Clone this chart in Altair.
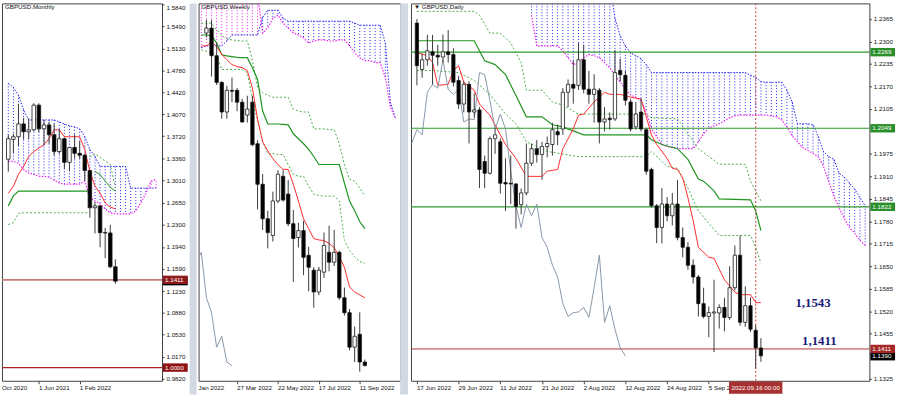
import altair as alt
import pandas as pd

FONT = "Liberation Sans"
PLOT_H = 382
BLUE = "#2323f2"
MAGENTA = "#f022f0"
RED = "#ff2b2b"
GREEN = "#1f951f"
DGREEN = "#4aae4a"
GRAY = "#8796a8"

# ======================= MONTHLY (index 0 = Dec 2020 ... 21 = Sep 2022) =======================
M_OPEN = [1.3350, 1.3670, 1.3712, 1.3918, 1.3791, 1.3823, 1.4220, 1.3839, 1.3902, 1.3744, 1.3473,
          1.3680, 1.3300, 1.3540, 1.3445, 1.3415, 1.3170, 1.2570, 1.2600, 1.2170, 1.2165, 1.1620]
M_HIGH = [1.3745, 1.3760, 1.4240, 1.4015, 1.4010, 1.4250, 1.4250, 1.3985, 1.3955, 1.3915, 1.3835,
          1.3700, 1.3545, 1.3750, 1.3645, 1.3440, 1.3180, 1.2665, 1.2615, 1.2245, 1.2295, 1.1740]
M_LOW = [1.3150, 1.3450, 1.3565, 1.3670, 1.3670, 1.3800, 1.3785, 1.3570, 1.3600, 1.3410, 1.3435,
         1.3195, 1.3160, 1.3360, 1.3355, 1.3000, 1.2410, 1.2155, 1.1935, 1.1760, 1.1600, 1.1350]
M_CLOSE = [1.3680, 1.3712, 1.3918, 1.3791, 1.3823, 1.4220, 1.3839, 1.3902, 1.3744, 1.3473, 1.3680,
           1.3300, 1.3540, 1.3445, 1.3415, 1.3170, 1.2570, 1.2600, 1.2170, 1.2165, 1.1620, 1.1390]
M_TENKAN = [1.2800, 1.2917, 1.3108, 1.3235, 1.3394, 1.3473, 1.3530, 1.3585, 1.3680, 1.3823, 1.3823,
            1.3712, 1.3712, 1.3712, 1.3712, 1.3505, 1.3156, 1.2917, 1.2806, 1.2647, 1.2580, 1.2552]
M_KIJUN_1 = [1.2600, 1.2760, 1.2838, 1.2838, 1.2838, 1.2838, 1.2838, 1.2838, 1.2838, 1.2838, 1.2838,
             1.2838, 1.2838, 1.2838, 1.2838, 1.2838, 1.2838]            # idx 0..16
M_KIJUN_2 = [1.3156, 1.3100, 1.3000, 1.2900, 1.2838]                  # idx 17..21
M_DASH_LOW = [1.2300, 1.2330, 1.2480, 1.2489, 1.2489, 1.2489, 1.2489, 1.2489, 1.2489, 1.2489, 1.2489,
              1.2489, 1.2489, 1.2489, 1.2489, 1.2489, 1.2489]           # idx 0..16
M_DASH_UP = [1.3390, 1.3440, 1.3380, 1.3320, 1.3267, 1.2886]          # idx 16..21
M_SPAN_A = [1.4569, 1.4506, 1.4379, 1.4141, 1.3982, 1.3982, 1.3982, 1.3982, 1.3982, 1.3982, 1.3950,
            1.3918, 1.3886, 1.3871, 1.3839, 1.3712, 1.3505, 1.3394, 1.3235, 1.3235, 1.3235, 1.3235,
            1.3235, 1.3235, 1.2886, 1.2886, 1.2886, 1.2886, 1.2886, 1.2886]   # idx 0..29
M_SPAN_B = [1.3315, 1.3315, 1.3283, 1.3188, 1.3124, 1.3108, 1.3076, 1.3076, 1.3060, 1.3013, 1.2965,
            1.2949, 1.2949, 1.2949, 1.2949, 1.2997, 1.2727, 1.2679, 1.2632, 1.2552, 1.2489, 1.2473,
            1.2473, 1.2473, 1.2473, 1.2520, 1.2648, 1.2806, 1.2997, 1.3029]
M_YTICKS = [1.5840, 1.5490, 1.5130, 1.4780, 1.4420, 1.4070, 1.3720, 1.3360, 1.3010, 1.2650, 1.2300,
            1.1940, 1.1590, 1.1230, 1.0880, 1.0530, 1.0170, 0.9820]
M_XTICK_IDX = [6, 14]
M_XTICK_LBL = ["1 Jun 2021", "1 Feb 2022"]
M_EDGE_LBL = "Oct 2020"
M_LEVEL_A = [1.1411]
M_LEVEL_B = [1.0000]
M_LAST = [1.1390]

# ======================= WEEKLY (index = weeks since 2 Jan 2022) =======================
W_OPEN = [1.3559, 1.3591, 1.3411, 1.3237, 1.3044, 1.3185, 1.3185, 1.3108, 1.3024, 1.3108, 1.2837,
          1.2573, 1.2348, 1.2239, 1.2464, 1.2625, 1.2509, 1.2316, 1.2226, 1.2271, 1.2110, 1.2013,
          1.1871, 1.2000, 1.2129, 1.2065, 1.2129, 1.1833, 1.1736, 1.1511, 1.1595, 1.1414]
W_HIGH = [1.3645, 1.3645, 1.3495, 1.3245, 1.3215, 1.3269, 1.3200, 1.3130, 1.3150, 1.3150, 1.2860,
          1.2640, 1.2400, 1.2525, 1.2665, 1.2665, 1.2600, 1.2405, 1.2322, 1.2335, 1.2165, 1.2032,
          1.2035, 1.2258, 1.2303, 1.2275, 1.2140, 1.1900, 1.1760, 1.1646, 1.1738, 1.1430]
W_LOW = [1.3530, 1.3275, 1.3220, 1.3000, 1.3000, 1.3108, 1.3050, 1.2975, 1.2975, 1.2820, 1.2410,
         1.2275, 1.2155, 1.2200, 1.2450, 1.2460, 1.2300, 1.1936, 1.2161, 1.1981, 1.1875, 1.1768,
         1.1850, 1.1962, 1.2005, 1.2040, 1.1820, 1.1717, 1.1490, 1.1414, 1.1351, 1.1385]
W_CLOSE = [1.3591, 1.3411, 1.3237, 1.3044, 1.3185, 1.3180, 1.3108, 1.2979, 1.3063, 1.2831, 1.2573,
           1.2348, 1.2258, 1.2464, 1.2638, 1.2470, 1.2316, 1.2219, 1.2271, 1.2097, 1.2032, 1.1871,
           1.2013, 1.2174, 1.2065, 1.2129, 1.1833, 1.1736, 1.1511, 1.1582, 1.1414, 1.1391]
W_TENKAN = [1.3475, 1.3475, 1.3501, 1.3470, 1.3420, 1.3385, 1.3353, 1.3340, 1.3333, 1.3314, 1.3200,
            1.2999, 1.2850, 1.2790, 1.2740, 1.2700, 1.2670, 1.2670, 1.2573, 1.2464, 1.2348, 1.2284,
            1.2219, 1.2210, 1.2206, 1.2187, 1.2160, 1.2100, 1.2032, 1.1904, 1.1870, 1.1852, 1.1833]
W_KIJUN = [1.3546, 1.3546, 1.3540, 1.3494, 1.3417, 1.3410, 1.3405, 1.3400, 1.3398, 1.3398, 1.3333,
           1.3256, 1.3050, 1.2966, 1.2966, 1.2966, 1.2963, 1.2960, 1.2902, 1.2870, 1.2837, 1.2800,
           1.2754, 1.2702, 1.2702, 1.2702, 1.2702, 1.2702, 1.2580, 1.2464, 1.2400, 1.2330, 1.2284]
W_DASH_A = [1.3623, 1.3623, 1.3623, 1.3580, 1.3540, 1.3520, 1.3514, 1.3510, 1.3507, 1.3507, 1.3380,
            1.3205, 1.3170, 1.3153, 1.3140, 1.3140, 1.3140, 1.3140, 1.3063, 1.3050, 1.3044, 1.3044,
            1.2934, 1.2934, 1.2934, 1.2930, 1.2928, 1.2837, 1.2700, 1.2606, 1.2593, 1.2550, 1.2496]
W_DASH_B = [1.3449, 1.3440, 1.3430, 1.3411, 1.3321, 1.3321, 1.3321, 1.3321, 1.3321, 1.3300, 1.3127,
            1.2990, 1.2850, 1.2773, 1.2773, 1.2767, 1.2767, 1.2700, 1.2638, 1.2625, 1.2625, 1.2560,
            1.2509, 1.2500, 1.2496, 1.2496, 1.2496, 1.2464, 1.2206, 1.2142, 1.2100, 1.2070, 1.2058]
W_SPAN_A = [1.3462, 1.3475, 1.3475, 1.3475, 1.3475, 1.3507, 1.3546, 1.3546, 1.3546, 1.3546, 1.3546,
            1.3546, 1.3662, 1.3707, 1.3707, 1.3707, 1.3655, 1.3636, 1.3636, 1.3636, 1.3636, 1.3636,
            1.3636, 1.3636, 1.3636, 1.3636, 1.3636, 1.3636, 1.3636, 1.3636, 1.3623, 1.3610, 1.3610,
            1.3610, 1.3610, 1.3610, 1.3494, 1.3108, 1.2999]   # idx 5..43
W_SPAN_B = [1.3816, 1.3816, 1.3816, 1.3816, 1.3816, 1.3816, 1.3816, 1.3816, 1.3816, 1.3816, 1.3816,
            1.3816, 1.3559, 1.3591, 1.3655, 1.3675, 1.3623, 1.3591, 1.3559, 1.3546, 1.3527, 1.3494,
            1.3507, 1.3514, 1.3514, 1.3507, 1.3507, 1.3514, 1.3514, 1.3475, 1.3430, 1.3398, 1.3379,
            1.3379, 1.3366, 1.3366, 1.3269, 1.3076, 1.2999]
W_XTICK_IDX = [12, 20, 28, 36]
W_XTICK_LBL = ["27 Mar 2022", "22 May 2022", "17 Jul 2022", "11 Sep 2022"]
W_EDGE_LBL = "Jan 2022"

# ======================= DAILY (index 0 = 17 Jun 2022 ... 66 = 19 Sep 2022) =======================
D_OPEN = [1.2353, 1.2219, 1.2247, 1.2270, 1.2260, 1.2255, 1.2270, 1.2262, 1.2187, 1.2119, 1.2176,
          1.2096, 1.2102, 1.1953, 1.1919, 1.2019, 1.2010, 1.1892, 1.1890, 1.1888, 1.1828, 1.1862,
          1.1948, 1.1990, 1.1973, 1.1996, 1.2002, 1.2039, 1.2047, 1.2153, 1.2176, 1.2173, 1.2247,
          1.2162, 1.2147, 1.2159, 1.2067, 1.2078, 1.2076, 1.2216, 1.2202, 1.2125, 1.2053, 1.2096,
          1.2045, 1.1930, 1.1825, 1.1762, 1.1830, 1.1796, 1.1830, 1.1733, 1.1705, 1.1653, 1.1619,
          1.1542, 1.1505, 1.1515, 1.1515, 1.1531, 1.1502, 1.1588, 1.1682, 1.1488, 1.1536, 1.1465,
          1.1414]
D_HIGH = [1.2365, 1.2265, 1.2319, 1.2319, 1.2290, 1.2320, 1.2333, 1.2280, 1.2200, 1.2185, 1.2185,
          1.2150, 1.2110, 1.1970, 1.2025, 1.2050, 1.2020, 1.1962, 1.1970, 1.1890, 1.1875, 1.2005,
          1.2005, 1.2015, 1.2010, 1.2025, 1.2065, 1.2060, 1.2165, 1.2190, 1.2245, 1.2295, 1.2290,
          1.2215, 1.2205, 1.2165, 1.2110, 1.2095, 1.2275, 1.2250, 1.2215, 1.2135, 1.2125, 1.2135,
          1.2050, 1.1935, 1.1830, 1.1876, 1.1850, 1.1862, 1.1900, 1.1762, 1.1720, 1.1670, 1.1625,
          1.1588, 1.1534, 1.1611, 1.1540, 1.1559, 1.1650, 1.1710, 1.1739, 1.1592, 1.1560, 1.1480,
          1.1442]
D_LOW = [1.2173, 1.2195, 1.2230, 1.2176, 1.2230, 1.2240, 1.2239, 1.2170, 1.2105, 1.2095, 1.2005,
         1.2080, 1.1876, 1.1876, 1.1915, 1.1975, 1.1860, 1.1810, 1.1830, 1.1759, 1.1800, 1.1855,
         1.1940, 1.1950, 1.1900, 1.1965, 1.1970, 1.2000, 1.2030, 1.2110, 1.2120, 1.2160, 1.2150,
         1.2120, 1.2065, 1.2005, 1.2040, 1.2045, 1.2070, 1.2185, 1.2115, 1.2040, 1.2045, 1.2040,
         1.1915, 1.1820, 1.1717, 1.1716, 1.1780, 1.1768, 1.1725, 1.1676, 1.1640, 1.1600, 1.1505,
         1.1499, 1.1445, 1.1402, 1.1470, 1.1462, 1.1495, 1.1580, 1.1478, 1.1475, 1.1460, 1.1354,
         1.1374]
D_CLOSE = [1.2230, 1.2247, 1.2273, 1.2260, 1.2255, 1.2270, 1.2262, 1.2182, 1.2119, 1.2176, 1.2096,
           1.2102, 1.1930, 1.1919, 1.2019, 1.2030, 1.1890, 1.1888, 1.1888, 1.1823, 1.1862, 1.1948,
           1.1990, 1.1973, 1.1996, 1.2005, 1.2045, 1.2030, 1.2153, 1.2176, 1.2165, 1.2247, 1.2162,
           1.2147, 1.2162, 1.2067, 1.2076, 1.2074, 1.2210, 1.2204, 1.2130, 1.2047, 1.2090, 1.2047,
           1.1925, 1.1825, 1.1762, 1.1830, 1.1796, 1.1830, 1.1733, 1.1705, 1.1653, 1.1619, 1.1542,
           1.1505, 1.1516, 1.1518, 1.1531, 1.1502, 1.1588, 1.1682, 1.1488, 1.1536, 1.1468, 1.1414,
           1.1391]
# line key points: (bar index, price)
D_TENKAN = [(0, 1.2267), (2, 1.2259), (3, 1.2239), (4, 1.2173), (6, 1.2176), (7, 1.2216), (8, 1.2230),
            (9, 1.2182), (11, 1.2159), (12, 1.2119), (13, 1.2102), (14, 1.2087), (16, 1.2030),
            (17, 1.2002), (19, 1.1962), (21, 1.1910), (24, 1.1910), (25, 1.1925), (27, 1.1930),
            (28, 1.1990), (30, 1.2047), (31, 1.2087), (32, 1.2090), (34, 1.2125), (36, 1.2153),
            (37, 1.2147), (39, 1.2147), (41, 1.2139), (43, 1.2133), (44, 1.2082), (45, 1.2030),
            (46, 1.2002), (48, 1.1962), (49, 1.1933), (50, 1.1930), (51, 1.1905), (52, 1.1848),
            (53, 1.1782), (54, 1.1705), (56, 1.1676), (57, 1.1673), (59, 1.1611), (61, 1.1575),
            (62, 1.1568), (64, 1.1568), (65, 1.1545), (66, 1.1545)]
D_KIJUN = [(0, 1.2302), (11, 1.2302), (13, 1.2244), (15, 1.2233), (17, 1.2204), (19, 1.2144),
           (21, 1.2082), (24, 1.2082), (26, 1.2059), (28, 1.2053), (32, 1.2030), (44, 1.2030),
           (45, 1.2016), (47, 1.2002), (50, 1.1990), (52, 1.1959), (54, 1.1902), (55, 1.1896),
           (57, 1.1868), (58, 1.1845), (64, 1.1842), (65, 1.1810), (66, 1.1753)]
D_DASH_A = [(0, 1.2387), (11, 1.2387), (12, 1.2376), (14, 1.2324), (16, 1.2324), (18, 1.2296),
            (20, 1.2239), (21, 1.2159), (24, 1.2159), (26, 1.2125), (28, 1.2116), (31, 1.2090),
            (44, 1.2090), (45, 1.2079), (50, 1.2076), (54, 1.1990), (58, 1.1945), (63, 1.1945),
            (64, 1.1896), (66, 1.1839)]
D_DASH_B = [(0, 1.2216), (3, 1.2216), (8, 1.2210), (11, 1.2187), (14, 1.2147), (17, 1.2090),
            (19, 1.2062), (21, 1.2010), (25, 1.1982), (31, 1.1967), (44, 1.1967), (45, 1.1982),
            (48, 1.1939), (50, 1.1933), (52, 1.1876), (54, 1.1810), (58, 1.1739), (64, 1.1739),
            (65, 1.1705), (66, 1.1659)]
D_SPAN_A = [1.2470, 1.2470, 1.2470, 1.2470, 1.2470, 1.2470, 1.2470, 1.2470, 1.2470, 1.2470, 1.2470,
            1.2470, 1.2470, 1.2470, 1.2470, 1.2470, 1.2367, 1.2316, 1.2287, 1.2267, 1.2259, 1.2250,
            1.2233, 1.2210, 1.2210, 1.2210, 1.2210, 1.2210, 1.2210, 1.2210, 1.2210, 1.2210, 1.2210,
            1.2210, 1.2210, 1.2210, 1.2210, 1.2210, 1.2210, 1.2210, 1.2210, 1.2210, 1.2202, 1.2196,
            1.2184, 1.2182, 1.2182, 1.2182, 1.2182, 1.2159, 1.2125, 1.2062, 1.2062, 1.2062, 1.2059,
            1.2025, 1.1982, 1.1967, 1.1959, 1.1919, 1.1908, 1.1890, 1.1873, 1.1848, 1.1825]  # idx 22..86
D_SPAN_B = [1.2376, 1.2287, 1.2287, 1.2287, 1.2287, 1.2287, 1.2273, 1.2253, 1.2233, 1.2239, 1.2253,
            1.2262, 1.2259, 1.2253, 1.2239, 1.2224, 1.2202, 1.2182, 1.2162, 1.2145, 1.2139, 1.2130,
            1.2096, 1.2047, 1.2025, 1.2002, 1.1996, 1.1993, 1.1990, 1.1990, 1.1990, 1.1990, 1.2010,
            1.2033, 1.2050, 1.2056, 1.2062, 1.2070, 1.2079, 1.2085, 1.2087, 1.2087, 1.2087, 1.2087,
            1.2087, 1.2087, 1.2085, 1.2082, 1.2073, 1.2053, 1.2027, 1.2010, 1.1993, 1.1985, 1.1976,
            1.1967, 1.1939, 1.1896, 1.1853, 1.1819, 1.1788, 1.1762, 1.1745, 1.1725, 1.1710]
# 1.2040 and 1.1390 grid labels sit under the price boxes in the reference, so they are not drawn
D_YTICKS = [1.2365, 1.2300, 1.2235, 1.2170, 1.2105, 1.1975, 1.1910, 1.1845, 1.1780, 1.1715,
            1.1650, 1.1585, 1.1520, 1.1455, 1.1325]
D_XTICK_IDX = [0, 8, 16, 24, 32, 40, 48, 56, 64]
D_XTICK_LBL = ["17 Jun 2022", "29 Jun 2022", "11 Jul 2022", "21 Jul 2022", "2 Aug 2022",
               "12 Aug 2022", "24 Aug 2022", "5 Sep 2022", "15 Sep 2022"]
D_CURSOR_IDX = 65
D_CURSOR_LBL = "2022.09.16 00:00"
D_LEVEL_GREEN = [1.2269, 1.2049, 1.1822]
D_LEVEL_RED = [1.1411]
D_LAST = [1.1390]
D_NOTE_TEXT = ["1,1543", "1,1411"]
D_NOTE_IDX = [76.0, 77.2]
D_NOTE_PRICE = [1.1543, 1.1411]


# ======================= helpers =======================
def seq_df(start, vals):
    return pd.DataFrame({"i": list(range(start, start + len(vals))), "v": vals})


def pts_df(pts):
    return pd.DataFrame({"i": [p[0] for p in pts], "v": [p[1] for p in pts]})


def make_enc(xdom, ydom, xticks, yax):
    xs = alt.Scale(domain=xdom, nice=False, zero=False)
    ys = alt.Scale(domain=ydom, nice=False, zero=False)
    xax = alt.Axis(values=xticks, labels=False, ticks=True, tickSize=3, tickColor="#444",
                   domain=False, grid=False, title=None, minExtent=14, maxExtent=14)

    def X(f):
        return alt.X(f"{f}:Q", scale=xs, axis=xax)

    def Y(f):
        return alt.Y(f"{f}:Q", scale=ys, axis=yax)
    return X, Y


def candle_layers(X, Y, o, h, l, c, start, bw):
    df = pd.DataFrame({"i": list(range(start, start + len(o))), "o": o, "h": h, "l": l, "c": c})
    wick = alt.Chart(df).mark_rule(color="#3a3a3a", strokeWidth=1, clip=True).encode(
        x=X("i"), y=Y("l"), y2="h:Q")
    body = alt.Chart(df).mark_bar(size=bw, stroke="#1a1a1a", strokeWidth=0.8, clip=True).encode(
        x=X("i"), y=Y("o"), y2="c:Q",
        fill=alt.condition("datum.c >= datum.o", alt.value("white"), alt.value("black")))
    return [wick, body]


def cloud_layers(X, Y, a, b, start):
    df = pd.DataFrame({"i": list(range(start, start + len(a))), "a": a, "b": b})
    df["top"] = ["A" if x >= y else "B" for x, y in zip(a, b)]
    hatch = alt.Chart(df).mark_rule(strokeWidth=1, strokeDash=[1, 2], clip=True).encode(
        x=X("i"), y=Y("a"), y2="b:Q",
        color=alt.Color("top:N", scale=alt.Scale(domain=["A", "B"], range=[BLUE, MAGENTA]), legend=None))
    la = alt.Chart(df).mark_line(color=BLUE, strokeWidth=1, strokeDash=[1.5, 1.5], clip=True).encode(
        x=X("i"), y=Y("a"))
    lb = alt.Chart(df).mark_line(color=MAGENTA, strokeWidth=1.2, strokeDash=[1.5, 1.5], clip=True).encode(
        x=X("i"), y=Y("b"))
    return [hatch, la, lb]


def line_layer(X, Y, df, color, width=1.0, dash=None):
    kw = dict(color=color, strokeWidth=width, clip=True)
    if dash:
        kw["strokeDash"] = dash
    return alt.Chart(df).mark_line(**kw).encode(x=X("i"), y=Y("v"))


def hlevel(Y, vals, color, width):
    return alt.Chart(pd.DataFrame({"v": vals})).mark_rule(color=color, strokeWidth=width).encode(y=Y("v"))


def ybox(Y, vals, fill, W):
    df = pd.DataFrame({"v": vals, "t": [f"{v:.4f}" for v in vals]})
    box = alt.Chart(df).mark_rule(color=fill, strokeWidth=8.5, strokeCap="butt").encode(
        y=Y("v"), x=alt.value(W + 1), x2=alt.value(W + 26))
    txt = alt.Chart(df).mark_text(align="left", baseline="middle", color="white", fontSize=6.3,
                                  font=FONT).encode(y=Y("v"), x=alt.value(W + 3), text="t:N")
    return [box, txt]


def title_layer(text):
    return alt.Chart(pd.DataFrame({"t": [text]})).mark_text(
        align="left", baseline="top", fontSize=6.3, font=FONT, color="#111").encode(
        x=alt.value(3), y=alt.value(1), text="t:N")


def xlabel_layer(X, idxs, labels, limit=0):
    df = pd.DataFrame({"i": idxs, "t": labels})
    kw = dict(align="left", baseline="middle", fontSize=6.3, font=FONT, color="#111")
    if limit:
        kw.update(limit=limit, ellipsis=" ")
    return alt.Chart(df).mark_text(**kw).encode(x=X("i"), y=alt.value(PLOT_H + 7), text="t:N")


def edge_label(text):
    return alt.Chart(pd.DataFrame({"t": [text]})).mark_text(
        align="left", baseline="middle", fontSize=6.3, font=FONT, color="#111").encode(
        x=alt.value(0), y=alt.value(PLOT_H + 7), text="t:N")


def separator(x0, x1):
    return alt.Chart(pd.DataFrame({"a": [0]})).mark_rect(color="#d2d9e3").encode(
        x=alt.value(x0), x2=alt.value(x1), y=alt.value(0), y2=alt.value(PLOT_H + 14))


# ======================= MONTHLY panel =======================
MW = 162
m_yax = alt.Axis(orient="right", values=M_YTICKS, format=".4f", labelFontSize=6.3, labelFont=FONT,
                 labelColor="#111", tickSize=2, tickColor="#333", labelPadding=2, domain=False,
                 grid=False, title=None, minExtent=35, maxExtent=35,
                 labelOffset=alt.condition("datum.value > 1.58", alt.value(3), alt.value(0)))
MX, MY = make_enc([-0.27, 29.18], [0.9788, 1.5856], M_XTICK_IDX, m_yax)
m_layers = []
m_layers += cloud_layers(MX, MY, M_SPAN_A, M_SPAN_B, 0)
m_layers.append(line_layer(MX, MY, seq_df(0, M_DASH_LOW), DGREEN, 1, [2, 2]))
m_layers.append(line_layer(MX, MY, seq_df(16, M_DASH_UP), DGREEN, 1, [2, 2]))
m_layers.append(line_layer(MX, MY, seq_df(0, M_KIJUN_1), GREEN, 1.2))
m_layers.append(line_layer(MX, MY, seq_df(17, M_KIJUN_2), GREEN, 1.0))
m_layers.append(line_layer(MX, MY, seq_df(0, M_TENKAN), RED, 1.0))
m_layers.append(hlevel(MY, M_LEVEL_A, "#c77b7b", 1.6))
m_layers.append(hlevel(MY, M_LEVEL_B, "#b01e1e", 1.2))
m_layers += candle_layers(MX, MY, M_OPEN, M_HIGH, M_LOW, M_CLOSE, 0, 3.6)
m_layers += ybox(MY, M_LAST, "#000000", MW)
m_layers += ybox(MY, M_LEVEL_A, "#8e1b1b", MW)
m_layers += ybox(MY, M_LEVEL_B, "#8e1010", MW)
m_layers.append(title_layer("GBPUSD,Monthly"))
m_layers.append(xlabel_layer(MX, M_XTICK_IDX, M_XTICK_LBL))
m_layers.append(edge_label(M_EDGE_LBL))
m_layers.append(separator(190, 197))
monthly = alt.layer(*m_layers).properties(width=MW, height=PLOT_H)

# ======================= WEEKLY panel =======================
WW = 204
w_yax = alt.Axis(orient="right", labels=False, ticks=False, domain=False, grid=False, title=None,
                 minExtent=8, maxExtent=8)
WX, WY = make_enc([5.43, 42.93], [1.1292, 1.3752], W_XTICK_IDX, w_yax)
w_chikou = pd.DataFrame({"i": [6 + k - 26 for k in range(len(W_CLOSE))], "v": W_CLOSE})
w_layers = []
w_layers += cloud_layers(WX, WY, W_SPAN_A, W_SPAN_B, 5)
w_layers.append(line_layer(WX, WY, seq_df(5, W_DASH_A), DGREEN, 1, [2, 2]))
w_layers.append(line_layer(WX, WY, seq_df(5, W_DASH_B), DGREEN, 1, [2, 2]))
w_layers.append(line_layer(WX, WY, seq_df(5, W_KIJUN), GREEN, 1.2))
w_layers.append(line_layer(WX, WY, seq_df(5, W_TENKAN), RED, 1.0))
w_layers.append(line_layer(WX, WY, w_chikou, GRAY, 1.0))
w_layers += candle_layers(WX, WY, W_OPEN, W_HIGH, W_LOW, W_CLOSE, 6, 3.4)
w_layers.append(title_layer("GBPUSD,Weekly"))
w_layers.append(xlabel_layer(WX, W_XTICK_IDX, W_XTICK_LBL))
w_layers.append(edge_label(W_EDGE_LBL))
w_layers.append(separator(WW, WW + 8))
weekly = alt.layer(*w_layers).properties(width=WW, height=PLOT_H)

# ======================= DAILY panel =======================
DW = 464
d_yax = alt.Axis(orient="right", values=D_YTICKS, format=".4f", labelFontSize=6.3, labelFont=FONT,
                 labelColor="#111", tickSize=2, tickColor="#333", labelPadding=2, domain=False,
                 grid=False, title=None, minExtent=27, maxExtent=27)
DX, DY = make_enc([-0.19, 85.86], [1.1319, 1.2410], D_XTICK_IDX, d_yax)
d_chikou = pd.DataFrame({"i": [k - 26 for k in range(len(D_CLOSE))], "v": D_CLOSE})
d_chikou = d_chikou[d_chikou.i >= -1]
d_layers = []
d_layers += cloud_layers(DX, DY, D_SPAN_A, D_SPAN_B, 22)
d_layers.append(line_layer(DX, DY, pts_df(D_DASH_A), DGREEN, 1, [2, 2]))
d_layers.append(line_layer(DX, DY, pts_df(D_DASH_B), DGREEN, 1, [2, 2]))
d_layers.append(hlevel(DY, D_LEVEL_GREEN, "#2e9b2e", 1.2))
d_layers.append(hlevel(DY, D_LEVEL_RED, "#b03434", 1.0))
d_layers.append(line_layer(DX, DY, pts_df(D_KIJUN), GREEN, 1.2))
d_layers.append(line_layer(DX, DY, pts_df(D_TENKAN), RED, 1.0))
d_layers.append(line_layer(DX, DY, d_chikou, GRAY, 1.0))
d_layers.append(alt.Chart(pd.DataFrame({"i": [D_CURSOR_IDX]})).mark_rule(
    color="#c04040", strokeDash=[2, 2], strokeWidth=1).encode(x=DX("i")))
d_layers += candle_layers(DX, DY, D_OPEN, D_HIGH, D_LOW, D_CLOSE, 0, 3.3)
d_layers += ybox(DY, D_LEVEL_GREEN, "#2a8f2a", DW)
d_layers += ybox(DY, D_LAST, "#000000", DW)
d_layers += ybox(DY, D_LEVEL_RED, "#a52828", DW)
note_df = pd.DataFrame({"i": D_NOTE_IDX, "v": D_NOTE_PRICE, "t": D_NOTE_TEXT})
d_layers.append(alt.Chart(note_df.iloc[[0]]).mark_text(
    align="center", baseline="middle", font="Liberation Serif", fontWeight="bold", fontSize=13,
    color="#1b1b78").encode(x=DX("i"), y=DY("v"), text="t:N"))
d_layers.append(alt.Chart(note_df.iloc[[1]]).mark_text(
    align="center", baseline="alphabetic", dy=-4, font="Liberation Serif", fontWeight="bold",
    fontSize=13, color="#1b1b78").encode(x=DX("i"), y=DY("v"), text="t:N"))
d_layers.append(title_layer("\u25bc GBPUSD,Daily"))
# labels that run into the cursor box are cut short at its edge, as in the reference
d_layers.append(xlabel_layer(DX, D_XTICK_IDX[:-2], D_XTICK_LBL[:-2]))
d_layers.append(xlabel_layer(DX, D_XTICK_IDX[-2:-1], D_XTICK_LBL[-2:-1], limit=26))
cur_df = pd.DataFrame({"i": [D_CURSOR_IDX], "t": [D_CURSOR_LBL]})
d_layers.append(alt.Chart(cur_df).mark_point(
    shape="M-1,-0.23L1,-0.23L1,0.23L-1,0.23Z", filled=True, opacity=1, color="#a83030", size=2916).encode(
    x=DX("i"), y=alt.value(PLOT_H + 7)))
d_layers.append(alt.Chart(cur_df).mark_text(
    align="center", baseline="middle", fontSize=6.3, font=FONT, color="white").encode(
    x=DX("i"), y=alt.value(PLOT_H + 7), text="t:N"))
daily = alt.layer(*d_layers).properties(width=DW, height=PLOT_H)

chart = (alt.hconcat(monthly, weekly, daily, spacing=0)
         .properties(padding=0)
         .configure(background="white", font=FONT)
         .configure_view(stroke="#404040", strokeWidth=1))

chart.save("out.html", embed_options={"renderer": "svg", "actions": False})
